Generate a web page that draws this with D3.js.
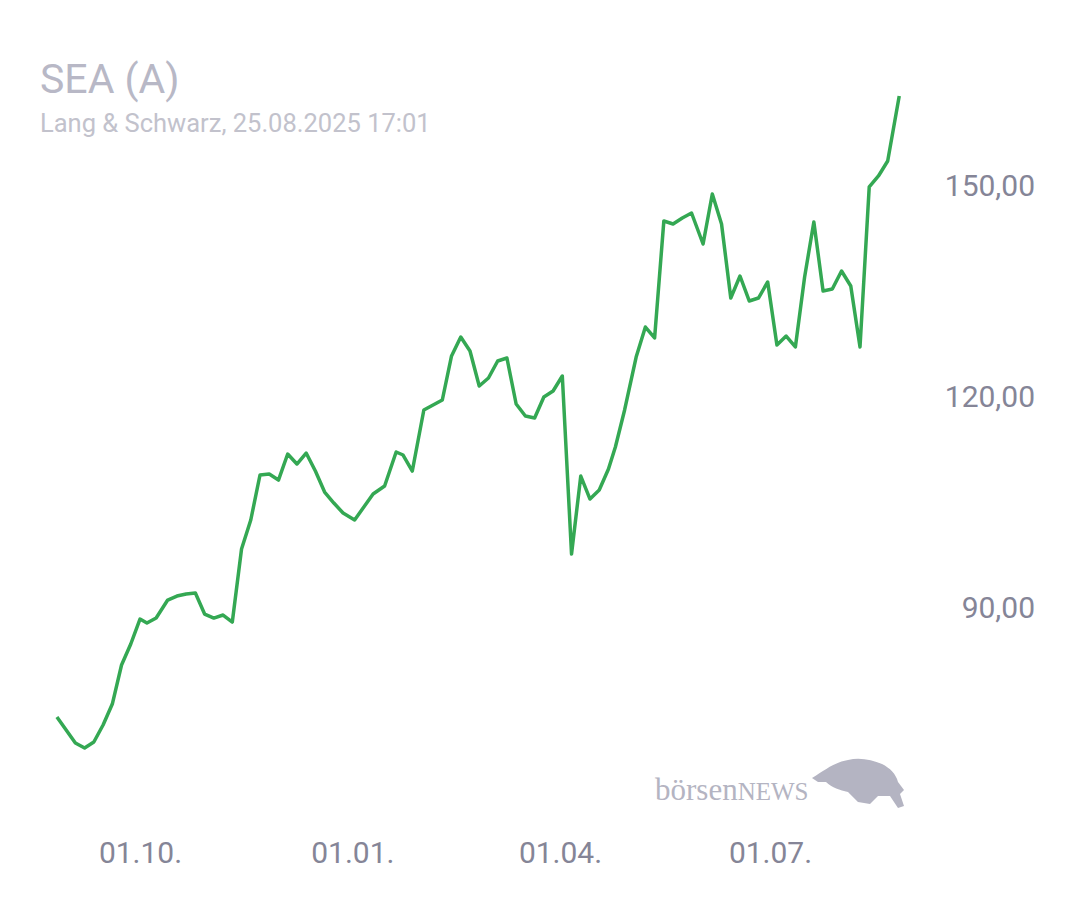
<!DOCTYPE html>
<html><head><meta charset="utf-8">
<script src="https://cdn.jsdelivr.net/npm/d3@7"></script>
<style>body{margin:0;background:#fff;font-family:Roboto,"Open Sans",sans-serif}</style>
</head><body><svg id="c" width="1080" height="900"></svg>
<script>
const dates=["2024-08-26","2024-09-03","2024-09-07","2024-09-11","2024-09-15","2024-09-19","2024-09-23","2024-09-27","2024-10-01","2024-10-04","2024-10-08","2024-10-13","2024-10-17","2024-10-21","2024-10-25","2024-10-29","2024-11-02","2024-11-06","2024-11-10","2024-11-14","2024-11-18","2024-11-22","2024-11-26","2024-11-30","2024-12-04","2024-12-08","2024-12-12","2024-12-16","2024-12-20","2024-12-24","2024-12-28","2025-01-02","2025-01-06","2025-01-10","2025-01-15","2025-01-20","2025-01-23","2025-01-27","2025-02-01","2025-02-05","2025-02-09","2025-02-13","2025-02-17","2025-02-21","2025-02-25","2025-03-01","2025-03-05","2025-03-09","2025-03-13","2025-03-17","2025-03-21","2025-03-25","2025-03-29","2025-04-02","2025-04-06","2025-04-10","2025-04-14","2025-04-18","2025-04-22","2025-04-25","2025-04-29","2025-05-04","2025-05-08","2025-05-12","2025-05-16","2025-05-20","2025-05-24","2025-05-28","2025-06-02","2025-06-06","2025-06-10","2025-06-14","2025-06-18","2025-06-22","2025-06-26","2025-06-30","2025-07-04","2025-07-08","2025-07-12","2025-07-16","2025-07-20","2025-07-24","2025-07-28","2025-08-01","2025-08-05","2025-08-09","2025-08-13","2025-08-17","2025-08-21","2025-08-26"];
const prices=[74.36,70.66,69.95,70.80,73.22,76.20,81.75,84.74,88.29,87.72,88.43,90.99,91.56,91.85,91.99,89.00,88.43,88.86,87.86,98.24,102.37,108.77,108.91,108.05,111.75,110.33,111.89,109.33,106.35,104.78,103.36,102.37,104.22,106.06,107.20,112.04,111.61,109.33,118.01,118.72,119.43,125.69,128.39,126.40,121.42,122.56,124.98,125.40,118.86,117.15,116.87,119.86,120.71,122.84,97.53,108.62,105.35,106.63,109.62,112.75,118.01,125.54,129.81,128.25,144.88,144.45,145.31,146.02,141.61,148.72,144.45,133.93,137.06,133.51,133.93,136.21,127.25,128.53,126.97,136.92,144.74,134.93,135.21,137.77,135.64,126.97,149.72,151.28,153.41,162.65];
const yTicks=[90,120,150];
const xTicks=["2024-10-01","2025-01-01","2025-04-01","2025-07-01"];
const xTickLabels=["01.10.","01.01.","01.04.","01.07."];

const svg=d3.select("#c");
const p=d3.utcParse("%Y-%m-%d");
const x=d3.scaleUtc().domain([p("2024-10-01"),p("2025-07-01")]).range([140,770]);
const y=d3.scaleLinear().domain([90,150]).range([607,185]);

svg.append("text").attr("x",40).attr("y",93).attr("font-size",41).attr("fill","#b8b8c6").text("SEA (A)");
svg.append("text").attr("x",40).attr("y",132).attr("font-size",25.5).attr("fill","#c2c2cc").text("Lang & Schwarz, 25.08.2025 17:01");

const ya=svg.append("g").attr("transform","translate(1035,0)").call(d3.axisRight(y).tickValues(yTicks).tickSize(0).tickFormat(d=>d3.format(".2f")(d).replace(".",",")));
ya.select(".domain").remove();
ya.selectAll("text").attr("x",0).attr("text-anchor","end").attr("dy","0.35em").attr("font-size",30).attr("fill","#858597").attr("font-family","Roboto");

const xa=svg.append("g").attr("transform","translate(0,852)").call(d3.axisBottom(x).tickValues(xTicks.map(p)).tickSize(0).tickFormat((d,i)=>xTickLabels[i]));
xa.select(".domain").remove();
xa.selectAll("text").attr("y",0).attr("dy","0.35em").attr("font-size",30).attr("fill","#858597").attr("font-family","Roboto");

// logo
svg.append("text").attr("x",655).attr("y",800).attr("font-family","Liberation Serif,serif").attr("font-size",31).attr("fill","#b4b4c2").text("börsen").append("tspan").attr("font-size",25).text("NEWS");
svg.append("path").attr("fill","#b4b4c2").attr("d","M812,778 C825,770 835,762 848,760 C860,757 872,760 882,764 C890,768 896,774 898,782 L904,790 L900,794 L904,806 L898,808 L890,796 L878,796 L870,804 L858,802 L848,792 C840,790 832,788 826,782 L818,782 Z");

const data=dates.map((d,i)=>({d:p(d),v:prices[i]}));
svg.append("path").datum(data).attr("fill","none").attr("stroke","#34a853").attr("stroke-width",3.5).attr("stroke-linejoin","round")
 .attr("d",d3.line().x(d=>x(d.d)).y(d=>y(d.v)));
</script></body></html>
